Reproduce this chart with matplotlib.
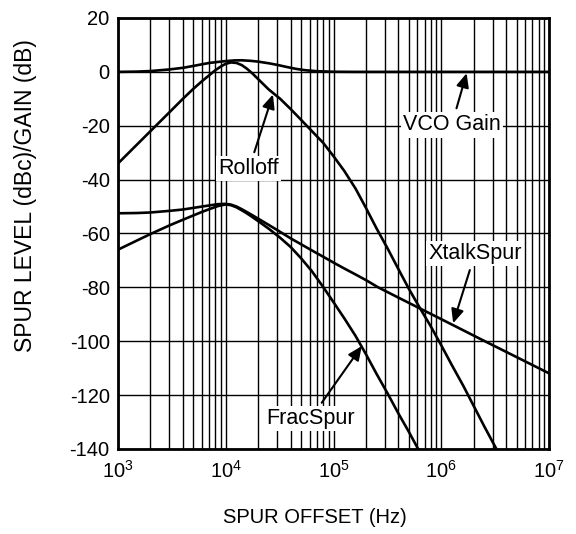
import matplotlib
matplotlib.use("Agg")
import matplotlib.pyplot as plt
import numpy as np

plt.rcParams['font.family'] = ['Liberation Sans', 'DejaVu Sans']
plt.rcParams['axes.unicode_minus'] = False

# curves (offset in Hz, level in dB)
vco_f = [1e3, 1.5e3, 2e3, 3e3, 4e3, 5e3, 6e3, 7e3, 8.5e3, 1e4, 1.2e4, 1.4e4, 1.7e4,
         2e4, 2.5e4, 3e4, 3.7e4, 4.5e4, 5.5e4, 7e4, 1e5, 1.5e5, 1e7]
vco_db = [0, 0.1, 0.3, 0.9, 1.5, 2.2, 2.8, 3.3, 3.7, 4.0, 4.25, 4.3, 4.1,
          3.8, 3.2, 2.6, 1.8, 1.1, 0.6, 0.25, 0.05, 0, 0]

roll_f = [1e3, 2e3, 3e3, 4e3, 5e3, 6e3, 7e3, 8e3, 9e3, 1e4, 1.12e4, 1.26e4, 1.41e4,
          1.58e4, 1.78e4, 2e4, 2.5e4, 3.2e4, 4e4, 5e4, 6.3e4, 8e4, 1e5, 1.26e5,
          1.6e5, 2e5, 2.5e5, 3.2e5, 4e5, 5e5, 6.3e5, 8e5, 1e6, 1.26e6, 1.6e6,
          2e6, 2.5e6, 3.2e6]
roll_db = [-34, -22, -15, -10, -6.3, -3.5, -1.3, 0.6, 2.0, 3.0, 3.5, 3.3, 2.5,
           1.1, -0.7, -2.7, -6.5, -10.0, -13.8, -17.8, -22.0, -26.3, -31.3, -36.8,
           -43.3, -50.5, -58, -65.8, -73.2, -80.5, -87.5, -94.5, -101.5, -109,
           -116.5, -124, -131.5, -139.5]

xtalk_f = [1e3, 1.5e3, 2e3, 3e3, 4e3, 5e3, 6e3, 7e3, 8.5e3, 1e4, 1.12e4, 1.26e4,
           1.41e4, 1.58e4, 1.78e4, 2e4, 2.5e4, 3.2e4, 4e4, 5e4, 6.3e4, 8e4, 1e5,
           1.26e5, 1.6e5, 2e5, 2.6e5, 4e5, 1e6, 2.4e6, 1e7]
xtalk_db = [-52.5, -52.4, -52.2, -51.6, -51.1, -50.5, -50.0, -49.6, -49.1, -49.0,
            -49.3, -50.0, -51.0, -52.1, -53.3, -54.5, -56.8, -59.4, -61.8, -64.0,
            -66.3, -68.6, -70.8, -73.0, -75.2, -77.3, -80, -83.8, -91.8, -99.5,
            -111.9]

frac_f = [1e3, 1.5e3, 2e3, 3e3, 4e3, 5e3, 6e3, 7e3, 8.5e3, 1e4, 1.12e4, 1.26e4,
          1.41e4, 1.58e4, 1.78e4, 2e4, 2.5e4, 3.2e4, 4e4, 5e4, 6.3e4, 8e4, 1e5,
          1.26e5, 1.6e5, 2e5, 2.5e5, 3.2e5, 4e5, 5e5, 6.1e5]
frac_db = [-66, -62.6, -60.2, -57, -54.9, -53.3, -52, -51, -49.8, -49.2, -49.5,
           -50.3, -51.4, -52.6, -54, -55.4, -58.2, -61.6, -65, -69.2, -74, -79.8,
           -85.5, -91.5, -98, -104.8, -112, -119.6, -126.8, -133.6, -140]

labels = ["Rolloff", "VCO Gain", "XtalkSpur", "FracSpur"]
label_xy = [(1.64e4, -36), (1.25e6, -19.7), (2.06e6, -67.4), (6.1e4, -128.8)]
arrow_tip = [(2.74e4, -8.4), (1.72e6, -0.5), (1.29e6, -93.3), (1.83e5, -101.8)]

fig = plt.figure(figsize=(5.76, 5.34), dpi=100)
ax = fig.add_axes([0.2049, 0.1592, 0.7482, 0.8071])

for f, db in [(vco_f, vco_db), (roll_f, roll_db), (xtalk_f, xtalk_db), (frac_f, frac_db)]:
    ax.plot(f, db, color='black', lw=1.9, solid_joinstyle='round', zorder=3)

ax.set_xscale('log')
ax.set_xlim(1e3, 1e7)
ax.set_ylim(-140, 20)
ax.set_yticks(np.arange(-140, 21, 20))

ax.grid(which='both', axis='x', color='black', lw=1.0)
ax.grid(which='major', axis='y', color='black', lw=1.0)
ax.tick_params(which='both', length=0, labelsize=14.5)
ax.tick_params(axis='x', pad=8)
ax.tick_params(axis='y', pad=6)
for s in ax.spines.values():
    s.set_linewidth(2)

for txt, xy, tip in zip(labels, label_xy, arrow_tip):
    ax.annotate(txt, xy=tip, xytext=xy, ha='center', va='center', fontsize=15.5,
                bbox=dict(boxstyle='square,pad=0.1', fc='white', ec='none'),
                arrowprops=dict(arrowstyle='-|>,head_length=0.6,head_width=0.27',
                                color='black', lw=1.5, mutation_scale=14,
                                shrinkA=3, shrinkB=0),
                zorder=4)

ax.set_xlabel("SPUR OFFSET (Hz)", fontsize=14.5, va='center')
ax.set_ylabel("SPUR LEVEL (dBc)/GAIN (dB)", fontsize=16.5, va='center')
ax.xaxis.set_label_coords(0.457, -0.160)
ax.yaxis.set_label_coords(-0.2146, 0.587)

plt.savefig("out.png", dpi=100)
